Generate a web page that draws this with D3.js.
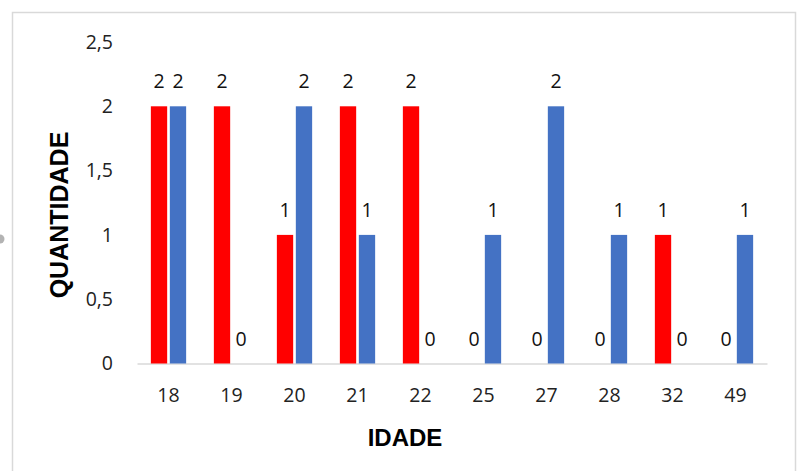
<!DOCTYPE html>
<html>
<head>
<meta charset="utf-8">
<script src="https://cdn.jsdelivr.net/npm/d3@7"></script>
<style>
  html, body { margin: 0; padding: 0; background: #fff; }
  svg { display: block; }
</style>
</head>
<body>
<svg id="chart" width="800" height="471"></svg>
<script>
// Idades e quantidades por série
const categories = ["18", "19", "20", "21", "22", "25", "27", "28", "32", "49"];
const seriesRed  = [2, 2, 1, 2, 2, 0, 0, 0, 1, 0];
const seriesBlue = [2, 0, 2, 1, 0, 1, 2, 1, 0, 1];
const yTicks = [0, 0.5, 1, 1.5, 2, 2.5];
const seriesColors = ["#ff0000", "#4472c4"];

const svg = d3.select("#chart");
const fmt = v => String(v).replace(".", ",");
const tickFont = "'Open Sans', 'Noto Sans', sans-serif";
const tickSize = 19.5;

// chart frame
svg.append("rect")
  .attr("x", 12.5).attr("y", 12.5)
  .attr("width", 783).attr("height", 470)
  .attr("fill", "#fff").attr("stroke", "#d9d9d9").attr("stroke-width", 1.5);

// small handle on the left edge
svg.append("circle").attr("cx", 0).attr("cy", 239).attr("r", 4.5)
  .attr("fill", "#a0a0a0").attr("opacity", 0.8);

const plot = { left: 137, right: 767, top: 42, bottom: 363.5 };

const x0 = d3.scaleBand().domain(categories)
  .range([plot.left, plot.right]).paddingInner(0.44).paddingOuter(0.22);
const x1 = d3.scaleBand().domain([0, 1])
  .range([0, x0.bandwidth()]).paddingInner(0.14);
const y = d3.scaleLinear().domain([0, 2.5]).range([plot.bottom, plot.top]);

// y tick labels (no axis line)
const yAxis = d3.axisLeft(y).tickValues(yTicks).tickFormat(fmt).tickSize(0).tickPadding(0);
const gy = svg.append("g").attr("transform", "translate(113,0)").call(yAxis);
gy.select(".domain").remove();
gy.selectAll("text").attr("font-family", tickFont).attr("font-size", tickSize).attr("fill", "#222");

// x axis
const xAxis = d3.axisBottom(x0).tickSize(0);
const gx = svg.append("g").attr("transform", `translate(0,${plot.bottom})`).call(xAxis);
gx.select(".domain").attr("stroke", "#d9d9d9").attr("stroke-width", 1.5);
gx.selectAll("text").attr("y", 38.5).attr("dy", 0)
  .attr("font-family", tickFont).attr("font-size", tickSize).attr("fill", "#222");

// bars
const rows = categories.map((c, i) => ({ cat: c, vals: [seriesRed[i], seriesBlue[i]] }));
const groups = svg.append("g").selectAll("g").data(rows).join("g")
  .attr("transform", d => `translate(${x0(d.cat)},0)`);

groups.selectAll("rect").data(d => d.vals.map((v, k) => ({ v, k }))).join("rect")
  .attr("x", d => x1(d.k))
  .attr("width", x1.bandwidth())
  .attr("y", d => y(d.v))
  .attr("height", d => y(0) - y(d.v))
  .attr("fill", d => seriesColors[d.k]);

// value labels
groups.selectAll("text.val").data(d => d.vals.map((v, k) => ({ v, k }))).join("text")
  .attr("class", "val")
  .attr("x", d => x1(d.k) + x1.bandwidth() / 2)
  .attr("y", d => y(d.v) - 18)
  .attr("text-anchor", "middle")
  .attr("font-family", tickFont).attr("font-size", tickSize).attr("fill", "#111")
  .text(d => fmt(d.v));

// axis titles
svg.append("text")
  .attr("transform", "translate(68,215) rotate(-90)")
  .attr("text-anchor", "middle")
  .attr("font-family", "'Liberation Sans', Arial, sans-serif")
  .attr("font-weight", "bold").attr("font-size", 25).attr("fill", "#000")
  .text("QUANTIDADE");

svg.append("text")
  .attr("x", 405).attr("y", 446)
  .attr("text-anchor", "middle")
  .attr("font-family", "'Liberation Sans', Arial, sans-serif")
  .attr("font-weight", "bold").attr("font-size", 24).attr("fill", "#000")
  .text("IDADE");
</script>
</body>
</html>
